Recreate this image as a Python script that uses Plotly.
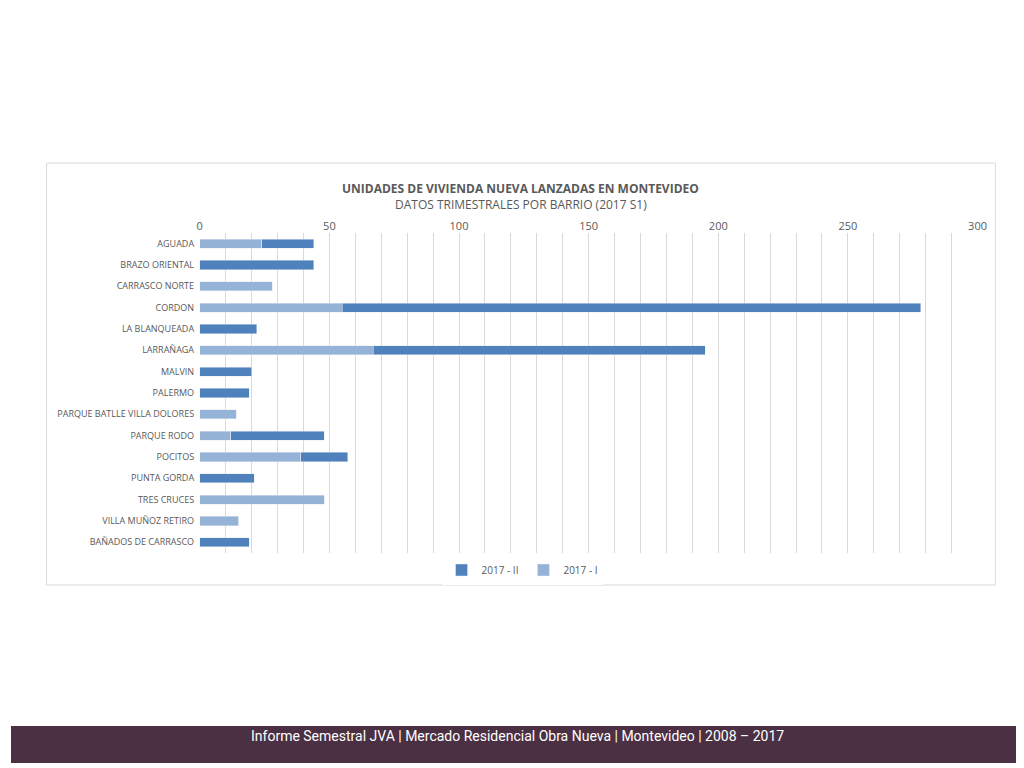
import plotly.graph_objects as go

barrios = ["AGUADA","BRAZO ORIENTAL","CARRASCO NORTE","CORDON","LA BLANQUEADA","LARRAÑAGA",
           "MALVIN","PALERMO","PARQUE BATLLE VILLA DOLORES","PARQUE RODO","POCITOS",
           "PUNTA GORDA","TRES CRUCES","VILLA MUÑOZ RETIRO","BAÑADOS DE CARRASCO"]
s1 = [24, 0, 28, 55, 0, 67, 0, 0, 14, 12, 39, 0, 48, 15, 0]
s2 = [20, 44, 0, 223, 22, 128, 20, 19, 0, 36, 18, 21, 0, 0, 19]

fig = go.Figure()
fig.add_bar(y=barrios, x=s1, orientation="h", name="2017 - I", marker_color="#95b3d7")
fig.add_bar(y=barrios, x=s2, orientation="h", name="2017 - II", marker_color="#4f81bd")

W, H = 1024, 768
def px(x): return x / W
def py(y): return 1 - y / H

fig.update_layout(
    width=W, height=H, barmode="stack", bargap=0.57,
    margin=dict(l=0, r=0, t=0, b=0),
    paper_bgcolor="white", plot_bgcolor="white",
    font=dict(family="Open Sans", size=9, color="#595959"),
    xaxis=dict(domain=[px(191), px(978)], range=[0, 300], side="top", dtick=50,
               showgrid=True, gridcolor="#d9d9d9", zeroline=False,
               minor=dict(dtick=10, showgrid=True, gridcolor="#d9d9d9"),
               tickfont=dict(size=11, color="#595959"), ticks=""),
    yaxis=dict(domain=[py(545), py(225)], autorange="reversed", ticks="",
               ticksuffix="  ", tickfont=dict(size=9, color="#595959")),
    legend=dict(orientation="h", x=0.505, xanchor="center", y=py(562), yanchor="middle",
                font=dict(size=10, color="#595959")),
    shapes=[
        dict(type="rect", xref="paper", yref="paper", x0=px(36), x1=px(996), y0=py(577), y1=py(155),
             line=dict(color="#d9d9d9", width=1), layer="below"),
        dict(type="rect", xref="paper", yref="paper", x0=0, x1=1, y0=py(755), y1=py(718),
             fillcolor="#4b3043", line=dict(width=0)),
    ],
    annotations=[
        dict(text="<b>UNIDADES DE VIVIENDA NUEVA LANZADAS EN MONTEVIDEO</b>", xref="paper", yref="paper",
             x=px(516), y=py(170), showarrow=False, font=dict(size=12, color="#595959")),
        dict(text="DATOS TRIMESTRALES POR BARRIO (2017 S1)", xref="paper", yref="paper",
             x=px(516), y=py(186), showarrow=False, font=dict(size=12, color="#595959")),
        dict(text="Informe Semestral JVA | Mercado Residencial Obra Nueva | Montevideo | 2008 – 2017",
             xref="paper", yref="paper", x=px(512), y=py(738), showarrow=False,
             font=dict(size=14, color="white", family="Roboto")),
    ],
)
fig.write_html("out.html")
